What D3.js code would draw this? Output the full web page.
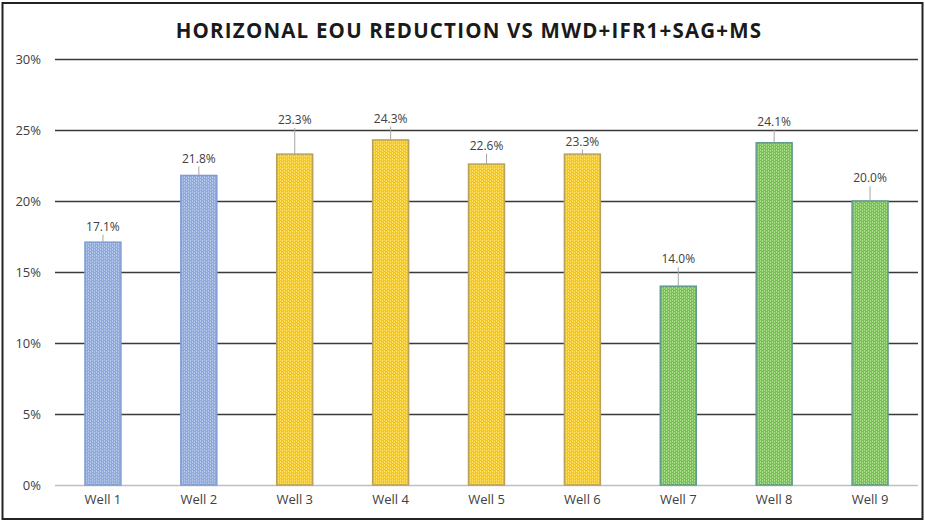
<!DOCTYPE html>
<html>
<head>
<meta charset="utf-8">
<script src="https://cdn.jsdelivr.net/npm/d3@7"></script>
<style>
  body { margin: 0; background: #fff; }
  text { font-family: 'Open Sans', 'Noto Sans', sans-serif; }
</style>
</head>
<body>
<div id="chart"></div>
<script>
var wells = ['Well 1', 'Well 2', 'Well 3', 'Well 4', 'Well 5', 'Well 6', 'Well 7', 'Well 8', 'Well 9']
var reduction = [17.1, 21.8, 23.3, 24.3, 22.6, 23.3, 14.0, 24.1, 20.0]
var groups = ['blue', 'blue', 'yellow', 'yellow', 'yellow', 'yellow', 'green', 'green', 'green']
// where the data label sits, in axis units (Excel moved some labels by hand)
var labelAt = [18.2, 23.0, 25.7, 25.8, 23.9, 24.2, 15.9, 25.6, 21.6]
var yTicks = [0, 5, 10, 15, 20, 25, 30]

var margin = { top: 59, left: 55, right: 7, bottom: 37 }
var width = 925 - margin.left - margin.right
var height = 522 - margin.top - margin.bottom

var svgRoot = d3
  .select('#chart')
  .append('svg')
  .attr('width', 925)
  .attr('height', 522)

svgRoot
  .append('rect')
  .attr('x', 2.5)
  .attr('y', 3)
  .attr('width', 920)
  .attr('height', 516)
  .attr('fill', 'white')
  .attr('stroke', '#222')
  .attr('stroke-width', 2)

var colors = {
  blue: { fill: '#8eaadb', light: '#b4c7ea', stroke: '#7f9cd4' },
  yellow: { fill: '#f5c518', light: '#ffe066', stroke: '#b8a25a' },
  green: { fill: '#78bf55', light: '#a8dc88', stroke: '#5f9c8c' }
}

var defs = svgRoot.append('defs')
Object.keys(colors).forEach(function(k) {
  var p = defs
    .append('pattern')
    .attr('id', 'pat-' + k)
    .attr('patternUnits', 'userSpaceOnUse')
    .attr('width', 4)
    .attr('height', 3)
  p.append('rect').attr('width', 4).attr('height', 3).attr('fill', colors[k].fill)
  p.append('rect').attr('x', 1).attr('width', 1).attr('height', 2).attr('fill', colors[k].light)
  p.append('rect').attr('x', 3).attr('y', 1).attr('width', 1).attr('height', 2).attr('fill', colors[k].light)
})

var svg = svgRoot
  .append('g')
  .attr('transform', 'translate(' + margin.left + ',' + margin.top + ')')

var xPositionScale = d3
  .scaleBand()
  .domain(wells)
  .range([0, width])
  .paddingInner(0.625)
  .paddingOuter(0.3125)

var yPositionScale = d3
  .scaleLinear()
  .domain([0, 30])
  .range([height, 0])

svgRoot
  .append('text')
  .text('HORIZONAL EOU REDUCTION VS MWD+IFR1+SAG+MS')
  .attr('x', 469)
  .attr('y', 38)
  .attr('text-anchor', 'middle')
  .attr('font-size', 20.5)
  .attr('font-weight', 'bold')
  .attr('letter-spacing', 1.2)
  .attr('fill', '#1a1a1a')

var yAxis = d3
  .axisLeft(yPositionScale)
  .tickValues(yTicks)
  .tickSize(-width)
  .tickPadding(14)
  .tickFormat(function(d) {
    return d + '%'
  })
svg
  .append('g')
  .attr('class', 'axis y-axis')
  .call(yAxis)

svg.selectAll('.y-axis path').remove()
svg
  .selectAll('.y-axis line')
  .attr('stroke', function(d) {
    return d === 0 ? '#bfbfbf' : '#3a3a3a'
  })
  .attr('stroke-width', function(d) {
    return d === 0 ? 1.5 : 1.3
  })
svg
  .selectAll('.y-axis text')
  .attr('font-size', 13)
  .attr('fill', '#404040')
  .attr('font-family', "'Open Sans', sans-serif")

var xAxis = d3.axisBottom(xPositionScale).tickSize(0).tickPadding(10)
svg
  .append('g')
  .attr('class', 'axis x-axis')
  .attr('transform', 'translate(0,' + height + ')')
  .call(xAxis)
svg.selectAll('.x-axis path').remove()
svg
  .selectAll('.x-axis text')
  .attr('font-size', 13)
  .attr('fill', '#404040')
  .attr('font-family', "'Open Sans', sans-serif")

svg
  .selectAll('.bar')
  .data(wells)
  .enter()
  .append('rect')
  .attr('class', 'bar')
  .attr('x', function(d) {
    return xPositionScale(d)
  })
  .attr('y', function(d, i) {
    return yPositionScale(reduction[i])
  })
  .attr('width', xPositionScale.bandwidth())
  .attr('height', function(d, i) {
    return height - yPositionScale(reduction[i])
  })
  .attr('fill', function(d, i) {
    return 'url(#pat-' + groups[i] + ')'
  })
  .attr('stroke', function(d, i) {
    return colors[groups[i]].stroke
  })
  .attr('stroke-width', 1.5)

// leader lines from label to bar top
svg
  .selectAll('.leader')
  .data(wells)
  .enter()
  .append('line')
  .attr('class', 'leader')
  .attr('x1', function(d) {
    return xPositionScale(d) + xPositionScale.bandwidth() / 2
  })
  .attr('x2', function(d) {
    return xPositionScale(d) + xPositionScale.bandwidth() / 2
  })
  .attr('y1', function(d, i) {
    return yPositionScale(labelAt[i]) + 8
  })
  .attr('y2', function(d, i) {
    return yPositionScale(reduction[i])
  })
  .attr('stroke', '#a6a6a6')
  .attr('stroke-width', 1)

svg
  .selectAll('.label')
  .data(wells)
  .enter()
  .append('text')
  .attr('class', 'label')
  .text(function(d, i) {
    return reduction[i].toFixed(1) + '%'
  })
  .attr('x', function(d) {
    return xPositionScale(d) + xPositionScale.bandwidth() / 2
  })
  .attr('y', function(d, i) {
    return yPositionScale(labelAt[i])
  })
  .attr('dy', '0.35em')
  .attr('text-anchor', 'middle')
  .attr('font-size', 12)
  .attr('fill', '#404040')
</script>
</body>
</html>
